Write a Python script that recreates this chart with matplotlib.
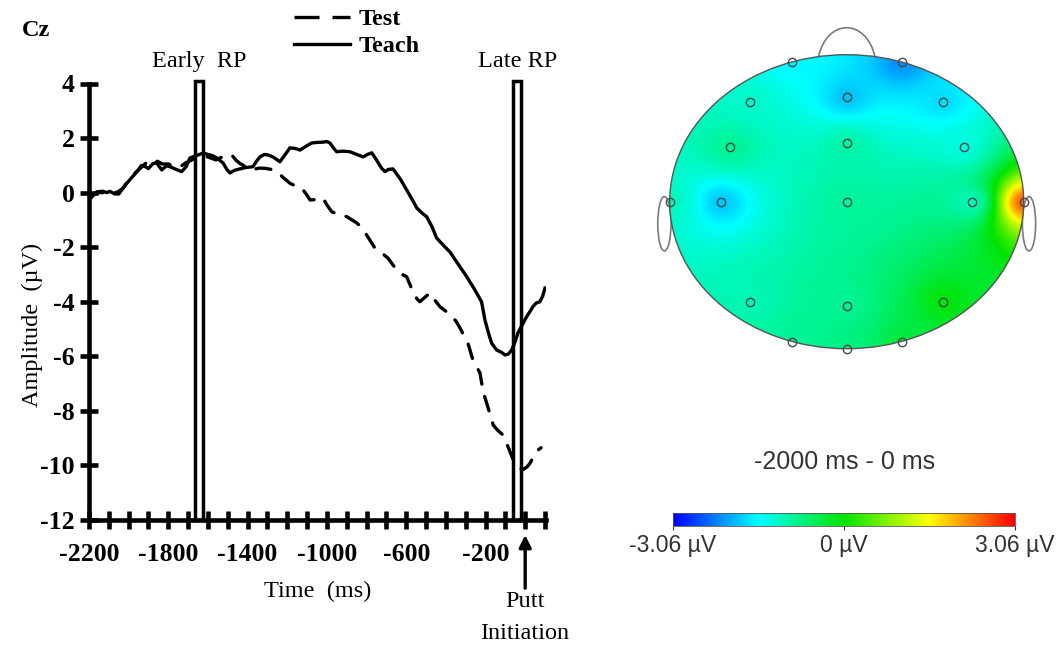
import numpy as np
import matplotlib
matplotlib.use('Agg')
import matplotlib.pyplot as plt
from matplotlib.colors import LinearSegmentedColormap
from matplotlib.lines import Line2D
from matplotlib.patches import Rectangle, Circle, Ellipse, PathPatch
from matplotlib.path import Path

plt.rcParams['font.family'] = ['Liberation Serif', 'DejaVu Serif']

# Cz waveforms, time in ms relative to putt initiation, amplitude in uV
teach_time = [-2200, -2190, -2175, -2160, -2130, -2110, -2095, -2070, -2050, -2020,
              -1985, -1960, -1935, -1915, -1900, -1880, -1860, -1845, -1833, -1810,
              -1792, -1760, -1733, -1710, -1691, -1660, -1625, -1600, -1575, -1556,
              -1524, -1505, -1489, -1465, -1439, -1410, -1373, -1355, -1338, -1315,
              -1297, -1270, -1237, -1210, -1187, -1160, -1136, -1105, -1077, -1050,
              -1020, -1000, -985, -965, -951, -920, -884, -850, -818, -795,
              -774, -750, -725, -707, -690, -667, -630, -598, -570, -547,
              -520, -497, -470, -447, -410, -380, -340, -295, -255, -220,
              -203, -185, -169, -144, -120, -102, -85, -68, -50, -37,
              -15, 7, 25, 39, 55, 74, 88, 100]
teach_amp = [-0.25, -0.20, -0.05, 0.03, 0.05, 0.00, 0.05, -0.05, -0.05, 0.25,
             0.55, 0.75, 1.00, 0.95, 0.88, 1.05, 1.10, 0.95, 0.83, 0.98,
             0.95, 0.85, 0.77, 0.95, 1.27, 1.35, 1.45, 1.40, 1.35, 1.27,
             1.09, 0.85, 0.72, 0.82, 0.87, 0.92, 0.95, 1.15, 1.31, 1.40,
             1.38, 1.30, 1.13, 1.40, 1.64, 1.62, 1.56, 1.70, 1.82, 1.84,
             1.85, 1.87, 1.82, 1.62, 1.50, 1.52, 1.50, 1.40, 1.31, 1.40,
             1.46, 1.20, 0.90, 0.77, 0.85, 0.87, 0.50, 0.10, -0.25, -0.56,
             -0.75, -0.88, -1.25, -1.66, -1.95, -2.17, -2.60, -3.08, -3.55, -4.00,
             -4.67, -5.15, -5.52, -5.77, -5.85, -5.95, -5.92, -5.77, -5.45, -5.15,
             -4.85, -4.55, -4.35, -4.18, -4.05, -4.00, -3.80, -3.50]

test_time = [-2200, -2180, -2150, -2120, -2090, -2060, -2030, -2000, -1970, -1940,
             -1910, -1880, -1855, -1830, -1800, -1770, -1740, -1710, -1680, -1650,
             -1620, -1590, -1560, -1530, -1500, -1480, -1460, -1439, -1410, -1373,
             -1340, -1312, -1280, -1253, -1220, -1186, -1160, -1127, -1100, -1085,
             -1050, -1020, -1000, -976, -940, -900, -850, -820, -800, -758,
             -725, -692, -648, -620, -598, -566, -545, -531, -500, -480,
             -455, -430, -400, -371, -350, -329, -289, -264, -228, -212,
             -186, -161, -140, -111, -80, -60, -30, -10, 10, 24,
             45, 66, 80]
test_amp = [-0.15, -0.10, 0.00, 0.00, 0.05, 0.00, 0.15, 0.45, 0.70, 0.90,
            1.10, 1.00, 1.15, 1.05, 1.05, 0.95, 0.95, 1.10, 1.20, 1.30,
            1.35, 1.28, 1.20, 1.30, 1.38, 1.38, 1.20, 1.07, 0.95, 0.85,
            0.90, 0.89, 0.85, 0.77, 0.55, 0.34, 0.25, 0.17, -0.10, -0.27,
            -0.25, -0.20, -0.45, -0.70, -0.80, -0.88, -1.11, -1.30, -1.55, -2.03,
            -2.20, -2.40, -2.84, -3.00, -3.08, -3.63, -3.90, -4.00, -3.80, -3.68,
            -3.95, -4.18, -4.35, -4.55, -4.70, -4.96, -5.51, -6.13, -6.61, -7.30,
            -7.91, -8.52, -8.70, -8.89, -9.43, -9.80, -10.10, -10.15, -10.05, -9.92,
            -9.65, -9.43, -9.35]

rp_windows = [(-1665, -1625), (-60, -20)]
rp_labels = ['Early  RP', 'Late RP']
x_ticks = list(range(-2200, 101, 100))
x_labelled = [-2200, -1800, -1400, -1000, -600, -200]
y_ticks = list(range(-12, 5, 2))

# scalp map: electrode positions on a unit head, mean amplitude in uV
elec_x = [-0.31, 0.31, -0.545, 0.0, 0.545, -0.66, 0.0, 0.66,
          -1.0, -0.71, 0.0, 0.71, 1.0, -0.545, 0.0, 0.545, -0.31, 0.31, 0.0]
elec_y = [0.952, 0.952, 0.68, 0.71, 0.68, 0.37, 0.397, 0.37,
          0.0, 0.0, 0.0, 0.0, 0.0, -0.68, -0.71, -0.68, -0.952, -0.952, -1.0]
elec_val = [-1.6, -2.3, -1.2, -2.0, -1.8, -0.8, -0.9, -1.4,
            -1.1, -2.0, -0.9, -1.3, 3.0, -1.1, -0.9, 0.0, -0.9, -0.3, -0.8]
scale_lim = 3.06
map_title = '-2000 ms - 0 ms'
scale_labels = ['-3.06 \u00b5V', '0 \u00b5V', '3.06 \u00b5V']

W, H = 1062, 650
fig = plt.figure(figsize=(W / 100, H / 100), dpi=100)

# ---- left: waveforms ----
ax = fig.add_axes([89 / W, 1 - 520 / H, 456.8 / W, 436.5 / H])
ax.plot(teach_time, teach_amp, color='black', lw=2.4, solid_joinstyle='round')
ax.plot(test_time, test_amp, color='black', lw=2.4, linestyle=(0, (4.5, 3.8)),
        dash_capstyle='round')
for (t0, t1), lab in zip(rp_windows, rp_labels):
    ax.add_patch(Rectangle((t0, -12), t1 - t0, 16.1, fill=False, lw=2.5,
                           ec='black', clip_on=False))
    ax.text((t0 + t1) / 2, 4.8, lab, ha='center', va='center', fontsize=17.5)

ax.set_xlim(-2200, 104)
ax.set_ylim(-12, 4)
for s in ['top', 'right']:
    ax.spines[s].set_visible(False)
for s in ['left', 'bottom']:
    ax.spines[s].set_linewidth(3.3)
ax.set_xticks(x_ticks)
ax.set_xticklabels([str(t) if t in x_labelled else '' for t in x_ticks],
                   fontweight='bold')
ax.set_yticks(y_ticks)
ax.set_yticklabels([str(v) for v in y_ticks], fontweight='bold')
ax.tick_params(direction='inout', length=13, width=3.3, labelsize=18.5)
ax.tick_params(axis='x', pad=10)
ax.tick_params(axis='y', pad=4)
ax.set_xlabel('Time  (ms)', fontsize=17.5)
ax.xaxis.set_label_coords(0.5, -0.14)
ax.set_ylabel('Amplitude  (\u00b5V)', fontsize=17.5)
ax.yaxis.set_label_coords(-0.1, 0.447)

# putt initiation marker
ax.annotate('', xy=(0, -12.55), xytext=(0, -14.5),
            arrowprops=dict(arrowstyle='-|>', lw=2.4, color='black',
                            mutation_scale=18, shrinkA=0, shrinkB=0),
            annotation_clip=False)
ax.text(0, -15.0, 'Putt', ha='center', va='center', fontsize=17.5, clip_on=False)
ax.text(0, -16.15, 'Initiation', ha='center', va='center', fontsize=17.5,
        clip_on=False)

handles = [Line2D([], [], color='black', lw=2.4, linestyle=(0, (7.5, 3.9))),
           Line2D([], [], color='black', lw=2.4)]
fig.legend(handles, ['Test', 'Teach'], loc='upper left',
           bbox_to_anchor=(294 / W, 1 - 8 / H), frameon=False, borderpad=0,
           borderaxespad=0, handlelength=2.3, handletextpad=0.35,
           labelspacing=0.22, prop={'weight': 'bold', 'size': 17.5})
fig.text(22 / W, 1 - 30 / H, 'Cz', fontweight='bold', fontsize=17.5, va='center')

# ---- right: scalp map ----
cmap = LinearSegmentedColormap.from_list(
    'topo', ['#0000ff', '#00ffff', '#00e400', '#ffff00', '#ff0000'])
tx = fig.add_axes([634.3 / W, 1 - 378.1 / H, 424.8 / W, 374.85 / H])
tx.set_xlim(-1.2, 1.2)
tx.set_ylim(-1.2, 1.35)
tx.axis('off')

# inverse-distance weighting of the electrode values over the scalp
ex = np.array(elec_x)
ey = np.array(elec_y)
ev = np.array(elec_val)
gx, gy = np.meshgrid(np.linspace(-1.02, 1.02, 300), np.linspace(-1.02, 1.02, 300))
d2 = (gx[..., None] - ex) ** 2 + (gy[..., None] - ey) ** 2
w = 1.0 / (d2 + 0.005)
field = (w * ev).sum(-1) / w.sum(-1)

for side in (-1, 1):
    tx.add_patch(Ellipse((side * 1.03, -0.15), 0.075, 0.37, fill=False,
                         ec='#7a7a7a', lw=1.2, zorder=1))
nose = Path([(-0.16, 0.985), (-0.11, 1.25), (0.11, 1.25), (0.16, 0.985)],
            [Path.MOVETO, Path.CURVE4, Path.CURVE4, Path.CURVE4])
tx.add_patch(PathPatch(nose, fill=False, ec='#7a7a7a', lw=1.2, zorder=1))

im = tx.imshow(field, extent=(-1.02, 1.02, -1.02, 1.02), origin='lower',
               cmap=cmap, vmin=-scale_lim, vmax=scale_lim,
               interpolation='bilinear', aspect='auto', zorder=2)
head = Circle((0, 0), 1.0, transform=tx.transData, fill=False, ec='#555555',
              lw=1.0, zorder=3)
tx.add_patch(head)
im.set_clip_path(head)
tx.plot(ex, ey, 'o', ms=6, mfc='none', mec='#4a4a4a', mew=1.0, zorder=4)

fig.text(845 / W, 1 - 462 / H, map_title, family='Liberation Sans',
         fontsize=18, color='#333333', ha='center', va='center')

cax = fig.add_axes([673 / W, 1 - 526 / H, 342 / W, 13 / H])
cbar = fig.colorbar(im, cax=cax, orientation='horizontal',
                    ticks=[-scale_lim, 0, scale_lim])
cbar.outline.set_linewidth(0.6)
cbar.outline.set_edgecolor('#555555')
cax.set_xticklabels(scale_labels, family='Liberation Sans', color='#333333',
                    fontsize=16.5)
cax.tick_params(length=3, color='#333333', pad=3)

fig.savefig('out.png', dpi=100)
